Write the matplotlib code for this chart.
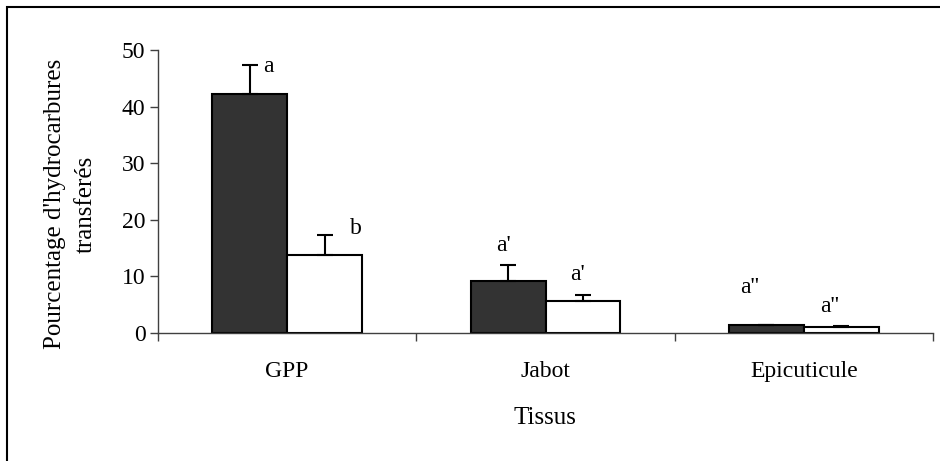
import matplotlib
matplotlib.use("Agg")
import matplotlib.pyplot as plt
import numpy as np
from matplotlib.patches import Rectangle

tissus = ["GPP", "Jabot", "Epicuticule"]
serie_fonce = [42.2, 9.1, 1.4]
serie_claire = [13.8, 5.7, 1.0]
err_fonce = [5.1, 2.9, 0.0]
err_claire = [3.5, 1.0, 0.2]
lettres_fonce = ["a", "a'", "a''"]
lettres_claire = ["b", "a'", "a''"]

W, H = 940, 461
plt.rcParams['font.family'] = ['Liberation Serif', 'DejaVu Serif']

fig = plt.figure(figsize=(W / 100, H / 100), dpi=100)
ax = fig.add_axes([158 / W, 1 - 333 / H, (933 - 158) / W, (333 - 50) / H])

x = np.arange(len(tissus)) + 0.5
w = 0.29
ax.bar(x - w / 2, serie_fonce, w, color="#333333", edgecolor="black", linewidth=1.5)
ax.bar(x + w / 2, serie_claire, w, color="white", edgecolor="black", linewidth=1.5)
ax.errorbar(x - w / 2, serie_fonce, yerr=[np.zeros(3), err_fonce], fmt="none",
            ecolor="black", elinewidth=1.5, capsize=6, capthick=1.5)
ax.errorbar(x + w / 2, serie_claire, yerr=[np.zeros(3), err_claire], fmt="none",
            ecolor="black", elinewidth=1.5, capsize=6, capthick=1.5)

# lettres de significativite (a cote / au-dessus des barres d'erreur)
pos_fonce = [(0.428, 47.0), (1.336, 15.5), (2.292, 8.0)]
pos_claire = [(0.767, 18.5), (1.622, 10.4), (2.601, 4.6)]
for (px, py), t in zip(pos_fonce, lettres_fonce):
    ax.text(px, py, t, ha="center", va="center", fontsize=17, clip_on=False)
for (px, py), t in zip(pos_claire, lettres_claire):
    ax.text(px, py, t, ha="center", va="center", fontsize=17, clip_on=False)

ax.set_xlim(0, 3)
ax.set_ylim(0, 50)
ax.set_yticks(range(0, 51, 10))
ax.set_xticks([0, 1, 2, 3])
ax.set_xticklabels([])
ax.set_xticks(x, minor=True)
ax.set_xticklabels(tissus, minor=True)
ax.tick_params(axis="x", which="minor", length=0, pad=20, labelsize=17)
ax.tick_params(axis="x", which="major", direction="out", length=6, width=1, color="#404040")
ax.tick_params(axis="y", direction="out", length=6, width=1, color="#404040", labelsize=17, pad=3)
for s in ["top", "right"]:
    ax.spines[s].set_visible(False)
for s in ["left", "bottom"]:
    ax.spines[s].set_color("#404040")
    ax.spines[s].set_linewidth(1)

fig.text(545 / W, 1 - 418 / H, "Tissus", ha="center", va="center", fontsize=18)
fig.text(70 / W, 1 - 204 / H, "Pourcentage d'hydrocarbures\ntransferés", rotation=90,
         ha="center", va="center", multialignment="center", fontsize=18, linespacing=1.5)

fig.add_artist(Rectangle((7 / W, -0.05), 1.0, 1.05 - 7 / H, transform=fig.transFigure,
                         fill=False, edgecolor="black", linewidth=1.5))

fig.savefig("out.png", dpi=100)
